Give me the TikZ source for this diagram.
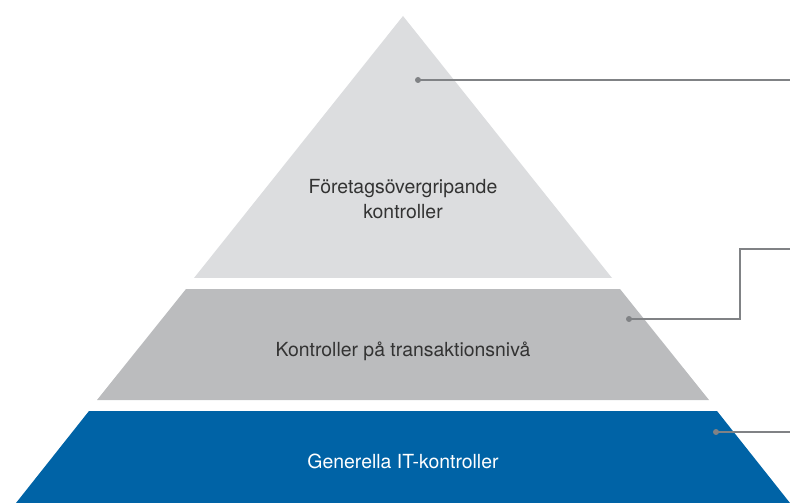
\documentclass[tikz,border=0pt]{standalone}
\usepackage{fontspec}
\setmainfont{TeX Gyre Heros}
\definecolor{lvlA}{HTML}{DCDDDF}
\definecolor{lvlB}{HTML}{BBBCBE}
\definecolor{lvlC}{HTML}{0063A6}
\definecolor{lead}{HTML}{808285}
\definecolor{ink}{HTML}{333333}
\begin{document}
\begin{tikzpicture}[x=1bp,y=-1bp,
  lbl/.style={font=\fontsize{19.5}{25}\selectfont, align=center, inner sep=0pt, text=ink},
  leader/.style={draw=lead, line width=1.4bp},
  dotn/.style={circle, fill=lead, inner sep=0pt, minimum size=6bp}]
\useasboundingbox (0,0) rectangle (790,503);
\fill[lvlA] (403,16) -- (612,278) -- (194,278) -- cycle;
\fill[lvlB] (186,289) -- (620,289) -- (709,400) -- (97,400) -- cycle;
\fill[lvlC] (89,411) -- (717,411) -- (790,503) -- (16,503) -- cycle;
\node[lbl] (t1) at (403,199) {Företagsövergripande\\kontroller};
\node[lbl] (t2) at (403,351) {Kontroller på transaktionsnivå};
\node[lbl, text=white] (t3) at (403,461) {Generella IT-kontroller};
\node[dotn] (d1) at (418,80) {};
\node[dotn] (d2) at (629,319) {};
\node[dotn] (d3) at (716,432) {};
\coordinate (e1) at (790,80);
\coordinate (k2) at (740,249);
\coordinate (e2) at (790,249);
\coordinate (e3) at (790,432);
\draw[leader] (d1.center) -- (e1);
\draw[leader] (d2.center) -| (k2) -- (e2);
\draw[leader] (d3.center) -- (e3);
\end{tikzpicture}
\end{document}
